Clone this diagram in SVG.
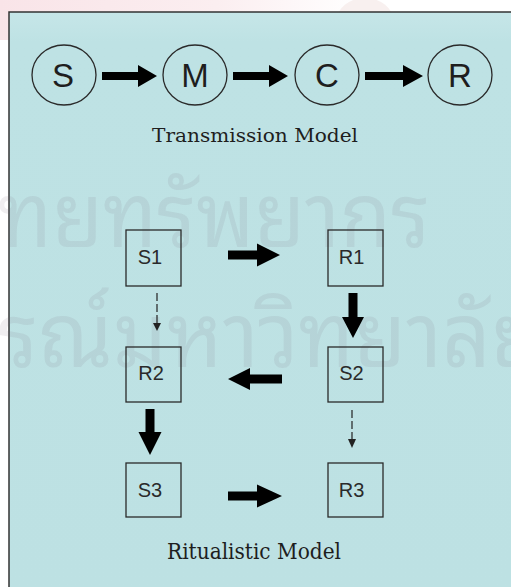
<svg xmlns="http://www.w3.org/2000/svg" width="511" height="587" viewBox="0 0 511 587">
  <defs>
    <linearGradient id="pinkTop" x1="0" y1="0" x2="1" y2="0">
      <stop offset="0" stop-color="#f9e4e8"/>
      <stop offset="0.6" stop-color="#fbeef0"/>
      <stop offset="1" stop-color="#ffffff"/>
    </linearGradient>
    <linearGradient id="panelFill" x1="0" y1="0" x2="0" y2="1">
      <stop offset="0" stop-color="#c6e6e8"/>
      <stop offset="0.05" stop-color="#bee2e4"/>
      <stop offset="1" stop-color="#bde1e3"/>
    </linearGradient>
  </defs>
  <style>
    .wm { font-family: "Noto Sans Thai Looped", "Noto Serif Thai", "Noto Sans Thai", "Noto Sans", "DejaVu Sans", sans-serif; fill: #7a6878; fill-opacity: 0.11; }
    .circ { fill: none; stroke: #2a2a2a; stroke-width: 1.3; }
    .box { fill: none; stroke: #2a2a2a; stroke-width: 1.3; }
    .cl { font-family: "Liberation Sans", Arial, sans-serif; font-size: 33px; fill: #1e1e1e; text-anchor: middle; }
    .bl { font-family: "Liberation Sans", Arial, sans-serif; font-size: 20px; fill: #2a2a2a; text-anchor: middle; }
    .cap { font-family: "DejaVu Serif", "Liberation Serif", serif; fill: #1e1e1e; }
    .thick { fill: #000000; }
    .dash { stroke: #222222; stroke-width: 1.2; stroke-dasharray: 8 3; fill: none; }
    .dhead { fill: #222222; }
  </style>

  <!-- background -->
  <rect x="0" y="0" width="511" height="587" fill="#ffffff"/>
  <rect x="0" y="0" width="360" height="40" fill="url(#pinkTop)"/>
  <ellipse cx="365" cy="20" rx="28" ry="22" fill="#f3e6e4" opacity="0.6"/>

  <!-- panel -->
  <rect id="panel" x="9" y="12" width="510" height="590" fill="url(#panelFill)" stroke="#333333" stroke-width="1.5"/>

  <!-- watermark -->
  <g id="watermark">
    <text class="wm" x="-2" y="247" font-size="90" textLength="432" lengthAdjust="spacingAndGlyphs">ทยทรัพยากร</text>
    <text class="wm" x="-2" y="367" font-size="90" textLength="545" lengthAdjust="spacingAndGlyphs">รณ์มหาวิทยาลัย</text>
  </g>

  <!-- Transmission model nodes -->
  <g id="node-S">
    <ellipse class="circ" cx="64" cy="75" rx="32" ry="30"/>
    <text class="cl" x="63" y="87">S</text>
  </g>
  <g id="node-M">
    <ellipse class="circ" cx="195" cy="75" rx="32" ry="30"/>
    <text class="cl" x="195" y="87">M</text>
  </g>
  <g id="node-C">
    <ellipse class="circ" cx="327" cy="75" rx="32" ry="30"/>
    <text class="cl" x="327" y="87">C</text>
  </g>
  <g id="node-R">
    <ellipse class="circ" cx="460" cy="75" rx="32" ry="30"/>
    <text class="cl" x="460" y="87">R</text>
  </g>
  <g id="label-transmission">
    <text class="cap" x="152" y="142" font-size="18" textLength="206" lengthAdjust="spacingAndGlyphs">Transmission Model</text>
  </g>

  <!-- Ritualistic model nodes -->
  <g id="node-S1">
    <rect class="box" x="126" y="230" width="55" height="56"/>
    <text class="bl" x="150" y="264">S1</text>
  </g>
  <g id="node-R1">
    <rect class="box" x="328" y="230" width="55" height="56"/>
    <text class="bl" x="351.5" y="264">R1</text>
  </g>
  <g id="node-R2">
    <rect class="box" x="126" y="347" width="55" height="55"/>
    <text class="bl" x="151" y="380">R2</text>
  </g>
  <g id="node-S2">
    <rect class="box" x="328" y="347" width="55" height="55"/>
    <text class="bl" x="351.5" y="380">S2</text>
  </g>
  <g id="node-S3">
    <rect class="box" x="126" y="463" width="55" height="54"/>
    <text class="bl" x="150" y="497">S3</text>
  </g>
  <g id="node-R3">
    <rect class="box" x="328" y="463" width="55" height="54"/>
    <text class="bl" x="351.5" y="497">R3</text>
  </g>
  <g id="label-ritualistic">
    <text class="cap" x="167" y="559" font-size="22" textLength="174" lengthAdjust="spacingAndGlyphs">Ritualistic Model</text>
  </g>

  <!-- connectors -->
  <g id="connectors">
    <path class="thick" d="M102,72 H138 V65 L157,76 L138,87 V80 H102 Z"/>
    <path class="thick" d="M233,72 H269 V65 L288,76 L269,87 V80 H233 Z"/>
    <path class="thick" d="M365,72 H403 V65 L423,76 L403,87 V80 H365 Z"/>

    <path class="thick" d="M228,250.5 H257 V243.5 L280,255 L257,266.5 V259.5 H228 Z"/>
    <path class="thick" d="M348.5,293 V317 H342 L353,338 L364,317 H357.5 V293 Z"/>
    <path class="thick" d="M282,374.5 H250 V368 L228,379 L250,390 V383.5 H282 Z"/>
    <path class="thick" d="M145.5,409 V432 H138.5 L150,455 L161.5,432 H154.5 V409 Z"/>
    <path class="thick" d="M228,491.5 H257 V484.5 L282,496 L257,507.5 V500.5 H228 Z"/>

    <line class="dash" x1="157" y1="293" x2="157" y2="323"/>
    <path class="dhead" d="M153,323 L161,323 L157,331 Z"/>
    <line class="dash" x1="352" y1="410" x2="352" y2="439"/>
    <path class="dhead" d="M348,439 L356,439 L352,448 Z"/>
  </g>
</svg>
